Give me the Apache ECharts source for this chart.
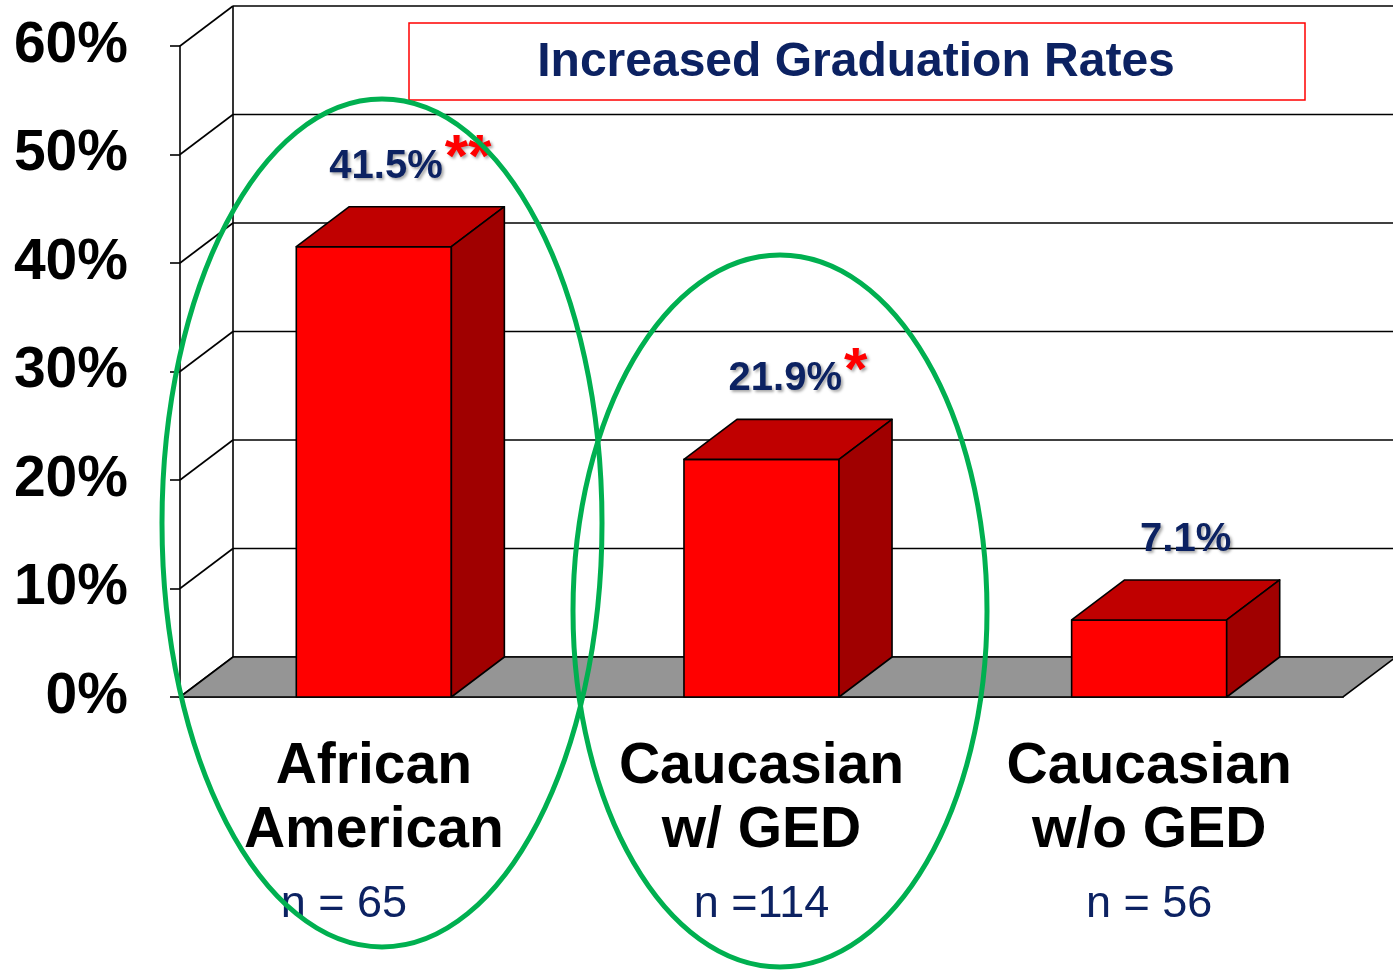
<!DOCTYPE html>
<html lang="en">
<head>
<meta charset="UTF-8">
<title>Increased Graduation Rates</title>
<script src="https://cdn.jsdelivr.net/npm/echarts@6/dist/echarts.min.js"></script>
<style>
    html, body { margin: 0; padding: 0; background: #fff; }
    #main { width: 1393px; height: 970px; }
</style>
</head>
<body>
<div id="main"></div>
<script>
    var groups = ['African\nAmerican', 'Caucasian\nw/ GED', 'Caucasian\nw/o GED'];
    var sampleText = ['n = 65', 'n =114', 'n = 56'];
    var rates = [41.5, 21.9, 7.1];
    var stars = ['**', '*', ''];
    var yTicks = [0, 10, 20, 30, 40, 50, 60];
    var titleText = 'Increased Graduation Rates';

    var DX = 53, DY = -40; // depth offset of the fake 3d box
    var FONT = '"Liberation Sans", Arial, sans-serif';
    var NAVY = '#0c2262';

    var chart = echarts.init(document.getElementById('main'));

    // back wall lines + side diagonals, one item per tick
    function renderWall(params, api) {
        var cs = params.coordSys;
        var y = api.coord([0, api.value(1)])[1];
        var x0 = cs.x, x1 = cs.x + cs.width;
        var st = { stroke: '#000', lineWidth: 1.6 };
        return {
            type: 'group',
            children: [
                { type: 'line', shape: { x1: x0, y1: y, x2: x0 + DX, y2: y + DY }, style: st },
                { type: 'line', shape: { x1: x0 + DX, y1: y + DY, x2: x1 + DX, y2: y + DY }, style: st }
            ]
        };
    }

    // grey floor + back vertical edge
    function renderFloor(params, api) {
        var cs = params.coordSys;
        var yb = api.coord([0, 0])[1];
        var yt = api.coord([0, yTicks[yTicks.length - 1]])[1];
        var x0 = cs.x, x1 = cs.x + cs.width;
        return {
            type: 'group',
            children: [
                {
                    type: 'polygon',
                    shape: { points: [[x0, yb], [x0 + DX, yb + DY], [x1 + DX, yb + DY], [x1, yb]] },
                    style: { fill: '#959595', stroke: '#000', lineWidth: 1.6 }
                },
                {
                    type: 'line',
                    shape: { x1: x0 + DX, y1: yb + DY, x2: x0 + DX, y2: yt + DY },
                    style: { stroke: '#000', lineWidth: 1.6 }
                }
            ]
        };
    }

    function renderBar(params, api) {
        var i = api.value(0);
        var top = api.coord([i, api.value(1)]);
        var base = api.coord([i, 0]);
        var w = api.size([1, 0])[0] * 0.4;
        var xl = top[0] - w / 2, xr = top[0] + w / 2;
        var y = top[1], yb = base[1];
        var edge = { stroke: '#000', lineWidth: 1.6, lineJoin: 'round' };
        var txt = '{v|' + rates[i] + '%}' + (stars[i] ? '{s|' + stars[i] + '}' : '');
        return {
            type: 'group',
            children: [
                {
                    type: 'polygon',
                    shape: { points: [[xl, y], [xr, y], [xr, yb], [xl, yb]] },
                    style: Object.assign({ fill: '#ff0000' }, edge)
                },
                {
                    type: 'polygon',
                    shape: { points: [[xl, y], [xl + DX, y + DY], [xr + DX, y + DY], [xr, y]] },
                    style: Object.assign({ fill: '#c00000' }, edge)
                },
                {
                    type: 'polygon',
                    shape: { points: [[xr, y], [xr + DX, y + DY], [xr + DX, yb + DY], [xr, yb]] },
                    style: Object.assign({ fill: '#a00000' }, edge)
                },
                {
                    type: 'text',
                    style: {
                        text: txt,
                        x: top[0] + DX / 2 + 10,
                        y: y + DY - 40,
                        align: 'center',
                        verticalAlign: 'middle',
                        rich: {
                            v: {
                                fontFamily: FONT, fontWeight: 'bold', fontSize: 40, fill: NAVY,
                                textShadowColor: 'rgba(0,0,0,0.35)', textShadowBlur: 3,
                                textShadowOffsetX: 2, textShadowOffsetY: 2
                            },
                            s: {
                                fontFamily: FONT, fontWeight: 'bold', fontSize: 60, fill: '#ff0000',
                                verticalAlign: 'bottom', padding: [0, 0, 14, 2],
                                textShadowColor: 'rgba(0,0,0,0.35)', textShadowBlur: 3,
                                textShadowOffsetX: 2, textShadowOffsetY: 2
                            }
                        }
                    }
                }
            ]
        };
    }

    chart.setOption({
        animation: false,
        grid: { left: 180, right: 50, top: 46, bottom: 273 },
        xAxis: {
            type: 'category',
            data: groups,
            axisLine: { lineStyle: { color: '#555', width: 2 } },
            axisTick: { length: 16, lineStyle: { color: '#777', width: 1.5 } },
            axisLabel: {
                margin: 38,
                formatter: function (val, idx) {
                    return val.split('\n').map(function (s) { return '{a|' + s + '}'; }).join('\n') +
                        '\n{' + (idx === 0 ? 'n0' : 'n') + '|' + sampleText[idx] + '}';
                },
                rich: {
                    a: { fontFamily: FONT, fontWeight: 'bold', fontSize: 57, color: '#000', lineHeight: 64 },
                    n: { fontFamily: FONT, fontSize: 45, color: NAVY, lineHeight: 84 },
                    n0: { fontFamily: FONT, fontSize: 45, color: NAVY, lineHeight: 84, padding: [0, 60, 0, 0] }
                }
            }
        },
        yAxis: {
            type: 'value',
            min: 0,
            max: 60,
            interval: 10,
            axisLine: { show: true, lineStyle: { color: '#000', width: 1.6 } },
            axisTick: { show: true, length: 10, lineStyle: { color: '#000', width: 1.6 } },
            splitLine: { show: false },
            axisLabel: {
                margin: 52,
                formatter: '{value}%',
                fontFamily: FONT,
                fontWeight: 'bold',
                fontSize: 57,
                color: '#000'
            }
        },
        series: [
            {
                type: 'custom',
                z: 1,
                renderItem: renderWall,
                data: yTicks.map(function (v) { return [0, v]; })
            },
            {
                type: 'custom',
                z: 2,
                renderItem: renderFloor,
                data: [[0, 0]]
            },
            {
                type: 'custom',
                z: 3,
                renderItem: renderBar,
                data: rates.map(function (v, i) { return [i, v]; })
            }
        ],
        graphic: [
            {
                type: 'rect',
                z: 10,
                shape: { x: 409, y: 23, width: 896, height: 77 },
                style: { fill: '#fff', stroke: '#ff0000', lineWidth: 1.5 }
            },
            {
                type: 'text',
                z: 11,
                x: 856,
                y: 63,
                style: {
                    text: titleText,
                    fontFamily: FONT,
                    fontWeight: 'bold',
                    fontSize: 48,
                    fill: NAVY,
                    align: 'center',
                    verticalAlign: 'middle'
                }
            },
            {
                type: 'ellipse',
                z: 20,
                shape: { cx: 382, cy: 523, rx: 220, ry: 424 },
                style: { fill: 'none', stroke: '#00b050', lineWidth: 5 }
            },
            {
                type: 'ellipse',
                z: 20,
                shape: { cx: 780, cy: 611, rx: 207, ry: 356 },
                style: { fill: 'none', stroke: '#00b050', lineWidth: 5 }
            }
        ]
    });
</script>
</body>
</html>
